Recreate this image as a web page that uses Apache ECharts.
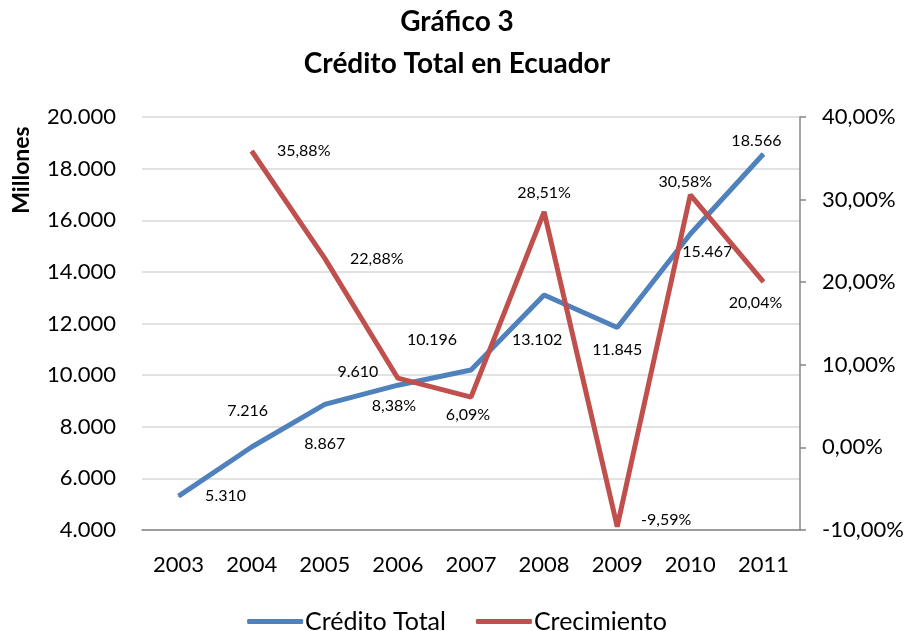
<!DOCTYPE html>
<html>
<head>
<meta charset="utf-8">
<script src="https://cdn.jsdelivr.net/npm/echarts@6/dist/echarts.min.js"></script>
<style>
  html, body { margin: 0; padding: 0; background: #fff; }
  #main { width: 914px; height: 631px; }
</style>
</head>
<body>
<div id="main"></div>
<script>
// datos
var years = ["2003", "2004", "2005", "2006", "2007", "2008", "2009", "2010", "2011"];
var creditoTotal = [5310, 7216, 8867, 9610, 10196, 13102, 11845, 15467, 18566];
var crecimiento = [null, 35.88, 22.88, 8.38, 6.09, 28.51, -9.59, 30.58, 20.04];

// desplazamiento de las etiquetas respecto al punto
var offCredito = [[47, 0], [-4, -36], [0, 39], [-40, -13], [-39, -30], [-7, 45], [0, 22], [17, 18], [-7, -13]];
var offCrec = [null, [52, 0], [52, 0], [-4, 28], [-3, 18], [0, -19], [49, -7], [-5, -13], [-8, 21]];

var FONT = "Lato";

function miles(v) {
  return String(Math.round(v)).replace(/\B(?=(\d{3})+(?!\d))/g, ".");
}
function pct(v) {
  return v.toFixed(2).replace(".", ",") + "%";
}

var myChart = echarts.init(document.getElementById("main"));

var option = {
  backgroundColor: "#fff",
  animation: false,
  title: {
    text: "Gráfico 3\nCrédito Total en Ecuador",
    left: "center",
    top: -4,
    textStyle: {
      fontFamily: FONT,
      fontWeight: "bold",
      fontSize: 28,
      lineHeight: 42,
      color: "#000"
    }
  },
  graphic: [{
    type: "text",
    x: 22,
    y: 170,
    rotation: Math.PI / 2,
    style: {
      text: "Millones",
      fontFamily: FONT,
      fontWeight: "bold",
      fontSize: 23,
      fill: "#000",
      textAlign: "center",
      textVerticalAlign: "middle"
    }
  }],
  legend: {
    top: 604,
    left: "center",
    itemGap: 30,
    itemWidth: 56,
    itemHeight: 5,
    icon: "roundRect",
    textStyle: { fontFamily: FONT, fontSize: 25, color: "#000", padding: [0, 0, 0, -3] },
    data: ["Crédito Total", "Crecimiento"]
  },
  grid: { left: 142, right: 114, top: 117, bottom: 101 },
  xAxis: {
    type: "category",
    data: years,
    axisLine: { onZero: false, lineStyle: { color: "#868686", width: 1.5 } },
    axisTick: { show: false },
    axisLabel: { fontFamily: FONT, fontSize: 22, color: "#000", margin: 24 }
  },
  yAxis: [
    {
      type: "value",
      min: 4000,
      max: 20000,
      interval: 2000,
      axisLine: { show: false },
      axisTick: { show: false },
      splitLine: { lineStyle: { color: "#d9d9d9", width: 1.5 } },
      axisLabel: {
        fontFamily: FONT, fontSize: 22, color: "#000", margin: 26,
        formatter: miles
      }
    },
    {
      type: "value",
      position: "right",
      min: -10,
      max: 40,
      interval: 10,
      axisLine: { show: true, lineStyle: { color: "#868686", width: 1.5 } },
      axisTick: { show: true, length: 6, lineStyle: { color: "#868686", width: 1.5 } },
      splitLine: { show: false },
      axisLabel: {
        fontFamily: FONT, fontSize: 22, color: "#000", margin: 22,
        formatter: pct
      }
    }
  ],
  series: [
    {
      name: "Crédito Total",
      type: "line",
      yAxisIndex: 0,
      symbol: "circle",
      symbolSize: 1,
      color: "#4f81bd",
      lineStyle: { width: 5, color: "#4f81bd" },
      data: creditoTotal.map(function (v, i) {
        return {
          value: v,
          label: { offset: offCredito[i] }
        };
      }),
      label: {
        show: true,
        position: "inside",
        fontFamily: FONT,
        fontSize: 16,
        color: "#000",
        formatter: function (p) { return miles(p.value); }
      },
      z: 2
    },
    {
      name: "Crecimiento",
      type: "line",
      yAxisIndex: 1,
      symbol: "circle",
      symbolSize: 1,
      color: "#c0504d",
      lineStyle: { width: 5, color: "#c0504d" },
      data: crecimiento.map(function (v, i) {
        if (v === null) return null;
        return {
          value: v,
          label: { offset: offCrec[i] }
        };
      }),
      label: {
        show: true,
        position: "inside",
        fontFamily: FONT,
        fontSize: 16,
        color: "#000",
        formatter: function (p) { return pct(p.value); }
      },
      z: 3
    }
  ]
};

myChart.setOption(option);
</script>
</body>
</html>
